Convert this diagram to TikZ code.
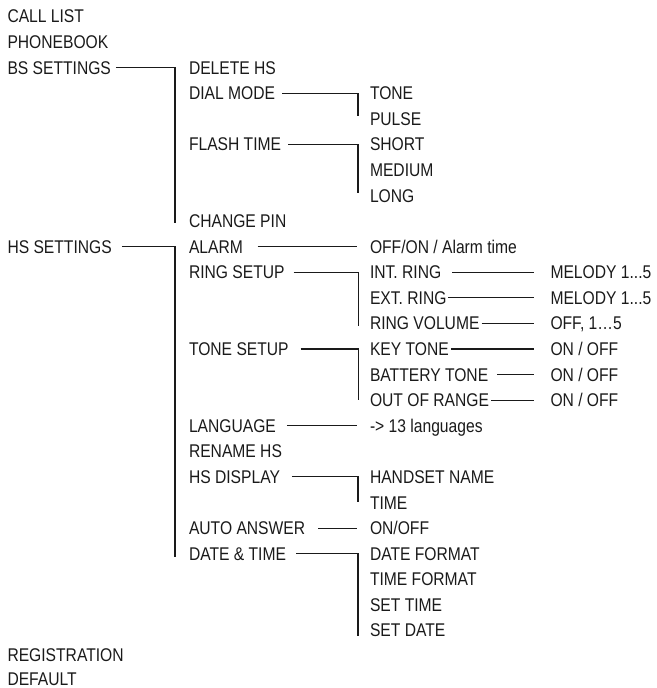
\documentclass[tikz,border=0pt]{standalone}
\usepackage{fontspec}
\setmainfont[FakeStretch=0.85]{Liberation Sans}
\definecolor{ink}{HTML}{1A1A1A}
\begin{document}
\begin{tikzpicture}[x=0.75pt,y=-0.75pt,
  lbl/.style={anchor=base west,inner sep=0pt,outer sep=0pt,text height=9.8pt,text depth=0pt,
    font=\fontsize{13.8}{16}\selectfont,text=ink},
  conn/.style={draw=ink,line width=0.8pt}]
\useasboundingbox (0,0) rectangle (656,688);
\def\ra{23}\def\rp{25.58}
% column 0
\node[lbl] (call) at (7.5,{\ra+0*\rp}) {CALL LIST};
\node[lbl] (pb) at (7.5,{\ra+1*\rp}) {PHONEBOOK};
\node[lbl] (bs) at (7.5,{\ra+2*\rp}) {BS SETTINGS};
\node[lbl] (hs) at (7.5,{\ra+9*\rp}) {HS SETTINGS};
\node[lbl] (reg) at (7.5,661) {REGISTRATION};
\node[lbl] (def) at (7.5,685.5) {DEFAULT};
% column 1
\node[lbl] (del) at (189,{\ra+2*\rp}) {DELETE HS};
\node[lbl] (dial) at (189,{\ra+3*\rp}) {DIAL MODE};
\node[lbl] (flash) at (189,{\ra+5*\rp}) {FLASH TIME};
\node[lbl] (pin) at (189,{\ra+8*\rp}) {CHANGE PIN};
\node[lbl] (alarm) at (189,{\ra+9*\rp}) {ALARM};
\node[lbl] (ring) at (189,{\ra+10*\rp}) {RING SETUP};
\node[lbl] (tone) at (189,{\ra+13*\rp}) {TONE SETUP};
\node[lbl] (lang) at (189,{\ra+16*\rp}) {LANGUAGE};
\node[lbl] (ren) at (189,{\ra+17*\rp}) {RENAME HS};
\node[lbl] (disp) at (189,{\ra+18*\rp}) {HS DISPLAY};
\node[lbl] (auto) at (189,{\ra+20*\rp}) {AUTO ANSWER};
\node[lbl] (dt) at (189,{\ra+21*\rp}) {DATE \& TIME};
% column 2
\node[lbl] (tn) at (370,{\ra+3*\rp}) {TONE};
\node[lbl] (pulse) at (370,{\ra+4*\rp}) {PULSE};
\node[lbl] (short) at (370,{\ra+5*\rp}) {SHORT};
\node[lbl] (med) at (370,{\ra+6*\rp}) {MEDIUM};
\node[lbl] (long) at (370,{\ra+7*\rp}) {LONG};
\node[lbl] (offon) at (370,{\ra+9*\rp}) {OFF/ON / Alarm time};
\node[lbl] (intr) at (370,{\ra+10*\rp}) {INT. RING};
\node[lbl] (extr) at (370,{\ra+11*\rp}) {EXT. RING};
\node[lbl] (rvol) at (370,{\ra+12*\rp}) {RING VOLUME};
\node[lbl] (key) at (370,{\ra+13*\rp}) {KEY TONE};
\node[lbl] (bat) at (370,{\ra+14*\rp}) {BATTERY TONE};
\node[lbl] (oor) at (370,{\ra+15*\rp}) {OUT OF RANGE};
\node[lbl] (langs) at (370,{\ra+16*\rp}) {-> 13 languages};
\node[lbl] (hname) at (370,{\ra+18*\rp}) {HANDSET NAME};
\node[lbl] (time) at (370,{\ra+19*\rp}) {TIME};
\node[lbl] (onoff) at (370,{\ra+20*\rp}) {ON/OFF};
\node[lbl] (dfmt) at (370,{\ra+21*\rp}) {DATE FORMAT};
\node[lbl] (tfmt) at (370,{\ra+22*\rp}) {TIME FORMAT};
\node[lbl] (stime) at (370,{\ra+23*\rp}) {SET TIME};
\node[lbl] (sdate) at (370,{\ra+24*\rp}) {SET DATE};
% column 3
\node[lbl] (m1) at (550.5,{\ra+10*\rp}) {MELODY 1...5};
\node[lbl] (m2) at (550.5,{\ra+11*\rp}) {MELODY 1...5};
\node[lbl] (vol) at (550.5,{\ra+12*\rp}) {OFF, 1…5};
\node[lbl] (o1) at (550.5,{\ra+13*\rp}) {ON / OFF};
\node[lbl] (o2) at (550.5,{\ra+14*\rp}) {ON / OFF};
\node[lbl] (o3) at (550.5,{\ra+15*\rp}) {ON / OFF};
% bracket ends
\coordinate (bsEnd) at (175,223);
\coordinate (hsEnd) at (175,557);
\coordinate (dialEnd) at (358,116);
\coordinate (flashEnd) at (358,193);
\coordinate (ringEnd) at (358.5,326);
\coordinate (toneEnd) at (358.5,400);
\coordinate (dispEnd) at (358,502);
\coordinate (dtEnd) at (358,636);
% connectors
\draw[conn] ([xshift=3.75pt]bs.east) -| (bsEnd);
\draw[conn] ([xshift=7.5pt]hs.east) -| (hsEnd);
\draw[conn] ([xshift=5.25pt]dial.east) -| (dialEnd);
\draw[conn] ([xshift=5.25pt]flash.east) -| (flashEnd);
\draw[conn] ([xshift=11pt]alarm.east) -- ([xshift=-9.75pt]alarm.east -| offon.west);
\draw[conn] ([xshift=6.75pt]ring.east) -| (ringEnd);
\draw[conn] ([xshift=9pt]tone.east) -| (toneEnd);
\draw[conn] ([xshift=8.25pt]lang.east) -- ([xshift=-9.75pt]lang.east -| langs.west);
\draw[conn] ([xshift=9pt]disp.east) -| (dispEnd);
\draw[conn] ([xshift=9.75pt]auto.east) -- ([xshift=-9.75pt]auto.east -| onoff.west);
\draw[conn] ([xshift=7.5pt]dt.east) -| (dtEnd);
\draw[conn] ([xshift=8.25pt]intr.east) -- ([xshift=-12.75pt]intr.east -| m1.west);
\draw[conn] ([xshift=1.5pt]extr.east) -- ([xshift=-12.75pt]extr.east -| m2.west);
\draw[conn] ([xshift=1.5pt]rvol.east) -- ([xshift=-12.75pt]rvol.east -| vol.west);
\draw[conn] ([xshift=1.5pt]key.east) -- ([xshift=-12.75pt]key.east -| o1.west);
\draw[conn] ([xshift=6.75pt]bat.east) -- ([xshift=-12.75pt]bat.east -| o2.west);
\draw[conn] ([xshift=1.5pt]oor.east) -- ([xshift=-12.75pt]oor.east -| o3.west);
\end{tikzpicture}
\end{document}
